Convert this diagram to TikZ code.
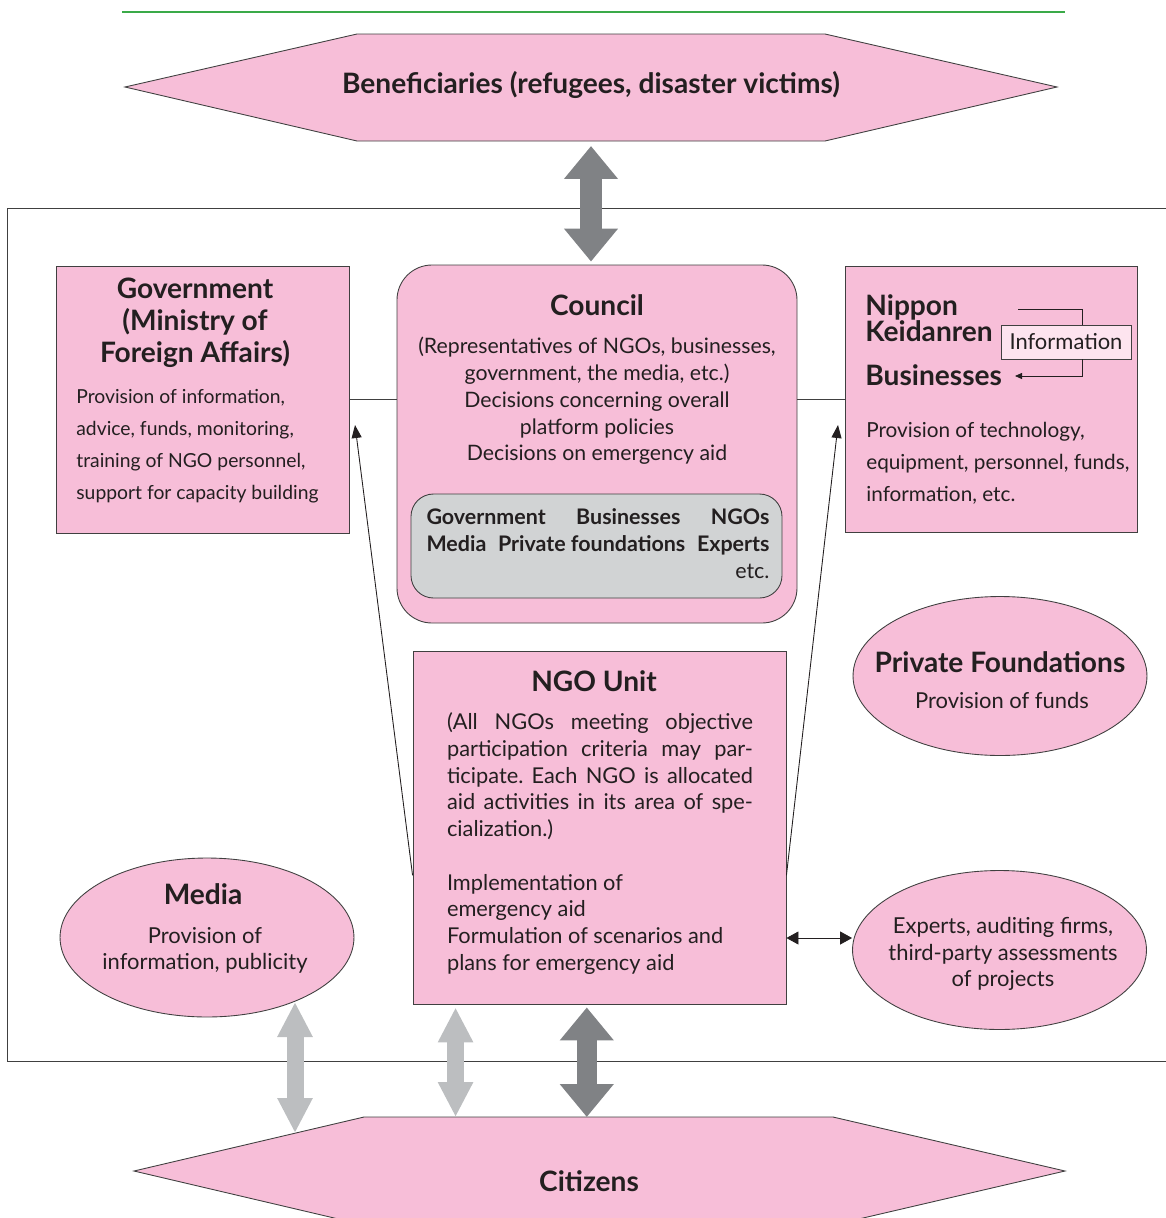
\documentclass[tikz,border=0pt]{standalone}
\usepackage{fontspec}
\setmainfont{Lato}
\usetikzlibrary{arrows.meta,shapes.geometric,fit,calc}
\definecolor{pinkfill}{RGB}{247,190,216}
\definecolor{infofill}{RGB}{253,228,239}
\definecolor{grayfill}{RGB}{209,211,212}
\definecolor{darkarrow}{RGB}{128,130,133}
\definecolor{lightarrow}{RGB}{188,190,192}
\definecolor{rulegreen}{RGB}{58,170,72}
\definecolor{edge}{RGB}{64,64,64}
\definecolor{ink}{RGB}{35,31,32}
\newcommand{\spreadline}[2]{\makebox[#1][s]{#2}}
\frenchspacing
\begin{document}
\begin{tikzpicture}[x=0.02cm,y=-0.02cm]
	\tikzset{
		pinkbox/.style={draw=edge, fill=pinkfill, line width=0.5pt, inner sep=0pt},
		graybox/.style={draw=edge, fill=grayfill, line width=0.5pt, inner sep=0pt, rounded corners=0.45cm},
		pinkoval/.style={ellipse, draw=edge, fill=pinkfill, line width=0.5pt, inner sep=0pt, minimum width=5.88cm, minimum height=3.18cm},
		hexa/.style={draw=edge, fill=pinkfill, line width=0.5pt},
		title/.style={font=\fontsize{16}{18.2}\selectfont\bfseries, text=ink, inner sep=0pt, align=center},
		body/.style={font=\fontsize{11}{18.2}\selectfont, text=ink, inner sep=0pt},
		tight/.style={font=\fontsize{12.4}{15.2}\selectfont, text=ink, inner sep=0pt},
		thinarrow/.style={draw=ink, line width=0.5pt, -{Triangle[length=2.6mm 0 0, width=2mm 0 0]}},
		darkbig/.style={draw=darkarrow, line width=4.4mm, {Triangle[length=6.6mm 0 0, width=10.4mm 0 0]}-{Triangle[length=6.6mm 0 0, width=10.4mm 0 0]}},
		lightbig/.style={draw=lightarrow, line width=3.4mm, {Triangle[length=7mm 0 0, width=6.6mm 0 0]}-{Triangle[length=7mm 0 0, width=6.6mm 0 0]}}
	}
	\useasboundingbox (0,0) rectangle (1166,1218);
	\draw[rulegreen, line width=0.05cm] (122,12) -- (1065,12);
	\draw[edge, line width=0.5pt] (1170,208) -- (7,208) -- (7,1061) -- (1170,1061);
	% beneficiaries and citizens
	\draw[hexa] (125,87) -- (357,34) -- (825,34) -- (1057,87) -- (825,141) -- (357,141) -- cycle;
	\draw[hexa] (134,1171) -- (364,1117) -- (833,1117) -- (1065,1171) -- (833,1225) -- (364,1225) -- cycle;
	\node[title] (benef) at (591,85) {Beneficiaries (refugees, disaster victims)};
	\node[title] (citizens) at (589,1181) {Citizens};
	\coordinate (benefbottom) at (591,141);
	\coordinate (citizenstop) at (589,1117);
	% boxes
	\node[pinkbox, fit={(56,266) (349,533)}] (gov) {};
	\node[pinkbox, rounded corners=0.7cm, fit={(397,265) (797,623)}] (council) {};
	\node[pinkbox, fit={(845,266) (1137,532)}] (keid) {};
	\node[pinkbox, fit={(413,651) (786,1004)}] (ngo) {};
	\node[graybox, fit={(411,494) (782,598)}] (members) {};
	\node[pinkoval] (private) at (1000,676) {};
	\node[pinkoval] (media) at (207,937.5) {};
	\node[pinkoval] (experts) at (999.5,950) {};
	% texts
	\node[title] (govtitle) at (195,323) {Government\\(Ministry of\\Foreign Affairs)};
	\node[body, anchor=west, align=left] (govtext) at (76,446) {Provision of information,\\advice, funds, monitoring,\\training of NGO personnel,\\support for capacity building};
	\node[title] (counciltitle) at (597,305) {Council};
	\node[tight, font=\fontsize{12.1}{15.2}\selectfont, align=center] (counciltext) at (597,401) {(Representatives of NGOs, businesses,\\government, the media, etc.)\\Decisions concerning overall\\platform policies\\Decisions on emergency aid};
	\node[tight, font=\fontsize{12.2}{15.4}\selectfont\bfseries, align=left] (memberstext) at (598,544) {\spreadline{6.86cm}{Government Businesses NGOs}\\\spreadline{6.86cm}{Media \mbox{Private foundations} Experts}\\\makebox[6.86cm][r]{\mdseries etc.}};
	\node[title, align=left, anchor=west, font=\fontsize{16}{14.8}\selectfont\bfseries] (nippon) at (865,318) {Nippon\\Keidanren};
	\node[title, anchor=west] (businesses) at (865,375) {Businesses};
	\node[draw=edge, fill=infofill, line width=0.5pt, text=ink, font=\fontsize{12.5}{14}\selectfont, minimum width=2.6cm, minimum height=0.68cm, inner sep=0pt] (info) at (1066,342) {Information};
	\node[body, font=\fontsize{11.8}{18.2}\selectfont, anchor=west, align=left] (keidtext) at (866,463) {Provision of technology,\\equipment, personnel, funds,\\information, etc.};
	\node[title] (privatetitle) at (1000,662) {Private Foundations};
	\node[tight, font=\fontsize{12.5}{15.2}\selectfont] (privatetext) at (1002,700) {Provision of funds};
	\node[title] (ngotitle) at (594,681) {NGO Unit};
	\node[tight, align=left] (ngotext) at (600,843.5) {\spreadline{6.12cm}{(All NGOs meeting objective}\\\spreadline{6.12cm}{participation criteria may par-}\\\spreadline{6.12cm}{ticipate. Each NGO is allocated}\\\spreadline{6.12cm}{aid activities in its area of spe-}\\cialization.)\\[15.2pt]Implementation of\\emergency aid\\Formulation of scenarios and\\plans for emergency aid};
	\node[title] (mediatitle) at (203,894) {Media};
	\node[tight, font=\fontsize{12.5}{15.2}\selectfont, align=center] (mediatext) at (205,950.5) {Provision of\\information, publicity};
	\node[tight, font=\fontsize{12.5}{15.2}\selectfont, align=center] (expertstext) at (1003,954) {Experts, auditing firms,\\third-party assessments\\of projects};
	% links
	\draw[edge, line width=0.5pt] (gov.east) -- (gov.east -| council.west);
	\draw[edge, line width=0.5pt] (keid.west -| council.east) -- (keid.west);
	\draw[ink, line width=0.5pt] (1018,309) -| ($(info.north)+(16,0)$);
	\draw[ink, line width=0.5pt, -{Triangle[length=1.4mm 0 0, width=1.2mm 0 0]}] ($(info.south)+(16,0)$) |- (1015,376);
	\coordinate (ngoleft) at ($(ngo.north west)!0.635!(ngo.south west)$);
	\coordinate (ngoright) at ($(ngo.north east)!0.635!(ngo.south east)$);
	\coordinate (govlink) at (355,425);
	\coordinate (keidlink) at (838,425);
	\draw[thinarrow] (ngoleft) -- (govlink);
	\draw[thinarrow] (ngoright) -- (keidlink);
	\draw[draw=ink, line width=0.5pt, {Triangle[length=2.4mm 0 0, width=2.6mm 0 0]}-{Triangle[length=2.4mm 0 0, width=2.6mm 0 0]}] (ngo.east |- 0,938) -- (experts.west |- 0,938);
	% big arrows
	\draw[darkbig, shorten <=0.1cm, shorten >=0.06cm] (benefbottom) -- (benefbottom |- council.north);
	\coordinate (medialow) at (295,1002);
	\coordinate (citizensslope) at (295,1133);
	\coordinate (ngolight) at ($(ngo.south west)!0.115!(ngo.south east)$);
	\coordinate (ngodark) at ($(ngo.south west)!0.466!(ngo.south east)$);
	\draw[lightbig] (medialow) -- (citizensslope);
	\draw[lightbig, shorten <=0.06cm] (ngolight) -- (ngolight |- citizenstop);
	\draw[darkbig, line width=4mm, shorten <=0.06cm] (ngodark) -- (ngodark |- citizenstop);
\end{tikzpicture}
\end{document}
